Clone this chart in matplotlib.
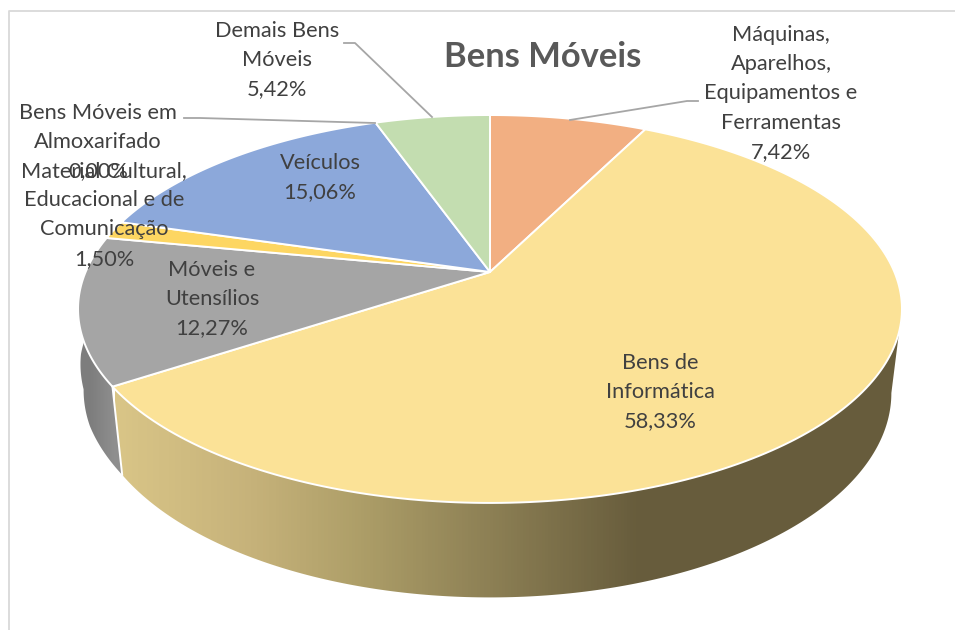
import numpy as np
import matplotlib; matplotlib.use("Agg"); import matplotlib.pyplot as plt
from matplotlib.colors import LinearSegmentedColormap
from matplotlib.patches import Polygon

plt.rcParams["font.family"] = ["Lato", "DejaVu Sans"]

# clockwise from 12 o'clock, same order as the workbook
NAMES = ["Máquinas, Aparelhos, Equipamentos e Ferramentas", "Bens de Informática",
         "Móveis e Utensílios", "Material Cultural, Educacional e de Comunicação",
         "Veículos", "Bens Móveis em Almoxarifado", "Demais Bens Móveis"]
VALUES = [7.42, 58.33, 12.27, 1.50, 15.06, 0.00, 5.42]
COLORS = ["#F2AF82", "#FBE297", "#A5A5A5", "#FDD662", "#8CA8DA", "#A5A5A5", "#C3DDB0"]
LABEL_LINES = [["Máquinas,", "Aparelhos,", "Equipamentos e", "Ferramentas", "7,42%"],
               ["Bens de", "Informática", "58,33%"],
               ["Móveis e", "Utensílios", "12,27%"],
               ["Material Cultural,", "Educacional e de", "Comunicação", "1,50%"],
               ["Veículos", "15,06%"],
               ["Bens Móveis em", "Almoxarifado", "0,00%"],
               ["Demais Bens", "Móveis", "5,42%"]]
LABEL_XY = [(781, 35), (660, 363), (212, 270), (104, 171), (320, 163), (98, 113), (277, 31)]
LEADERS = [[(698, 101), (687, 101), (570, 120)],
           [(184, 118), (200, 118), (375, 123)],
           [(344, 43), (355, 43), (432, 117)]]

GRAD_X = [115, 250, 360, 480, 640, 900]
GRAD_C = ["#D9C587", "#C6B27A", "#AD9E68", "#8F8256", "#675C3C", "#675C3C"]

K = 0.1907   # perspective of the tilted disc
CX, CY, A, B = 490, 272, 404.4, 186.9     # top face
CY2, A2, B2 = 354, 394, 197               # bottom rim

def rim(deg, cy=CY, a=A, b=B):
    t = np.radians(deg)
    x, y = np.sin(t), np.cos(t)
    w = 1 + K*y
    return CX + a*x/w, cy - b*y/w

def band(t0, t1, bulge=False):
    ts = np.linspace(t0, t1, 200)
    xt, yt = rim(ts)
    a2 = A2
    if bulge:  # bottom rim sits further out on the left
        a2 = np.interp(ts[::-1], [236.7, 250, 260, 270, 285], [394, 398, 399, 409, 420])
    xb, yb = rim(ts[::-1], CY2, a2, B2)
    return np.column_stack([np.r_[xt, xb], np.r_[yt, yb]])

fig, ax = plt.subplots(figsize=(9.55, 6.3), dpi=100)
ax.set_position([0, 0, 1, 1]); ax.axis("off")
ax.set_xlim(0, 955); ax.set_ylim(630, 0)
ax.plot([9, 9, 955], [630, 10.5, 10.5], color="#D9D9D9", lw=1.3)

edges = np.cumsum([0] + VALUES)*3.6
t_info, t_move = edges[2], edges[3]

# side wall: grey slice then the gradient on the big one
grey = Polygon(band(t_info, 281, bulge=True), closed=True, fc="none", ec="none"); ax.add_patch(grey)
im = ax.imshow(np.array([[0, 1]]), extent=(78, 125, 630, 0), aspect="auto", zorder=1,
               cmap=LinearSegmentedColormap.from_list("g", ["#7D7D7D", "#8E8E8E"]), interpolation="bilinear")
im.set_clip_path(grey)
wall = Polygon(band(101, t_info), closed=True, fc="none", ec="none"); ax.add_patch(wall)
pos = [(x-GRAD_X[0])/(GRAD_X[-1]-GRAD_X[0]) for x in GRAD_X]
cm = LinearSegmentedColormap.from_list("w", list(zip(pos, GRAD_C)))
im = ax.imshow(np.linspace(0, 1, 256)[None, :], extent=(GRAD_X[0], GRAD_X[-1], 630, 0),
               aspect="auto", zorder=1, cmap=cm, interpolation="bilinear")
im.set_clip_path(wall)
ax.set_xlim(0, 955); ax.set_ylim(630, 0)
xa, ya = rim(t_info); xb, yb = rim(t_info, CY2, A2, B2)
ax.plot([xa, xb], [ya, yb], color="white", lw=1.4, zorder=2)

for v, c, t0, t1 in zip(VALUES, COLORS, edges[:-1], edges[1:]):
    if v == 0:
        continue
    xs, ys = rim(np.linspace(t0, t1, 200))
    ax.fill(np.r_[CX, xs], np.r_[CY, ys], fc=c, ec="white", lw=1.4, zorder=3, joinstyle="round")

for pts in LEADERS:
    ax.plot(*zip(*pts), color="#A6A6A6", lw=1.3, zorder=4)

for lines, (lx, ly) in zip(LABEL_LINES, LABEL_XY):
    for i, s in enumerate(lines):
        ax.text(lx, ly + i*29.2, s, ha="center", va="center", fontsize=15.7, color="#404040", zorder=5)

ax.text(543, 57, "Bens Móveis", ha="center", va="center", fontsize=24.8, fontweight="bold", color="#595959", zorder=5)

fig.savefig("out.png", dpi=100)
